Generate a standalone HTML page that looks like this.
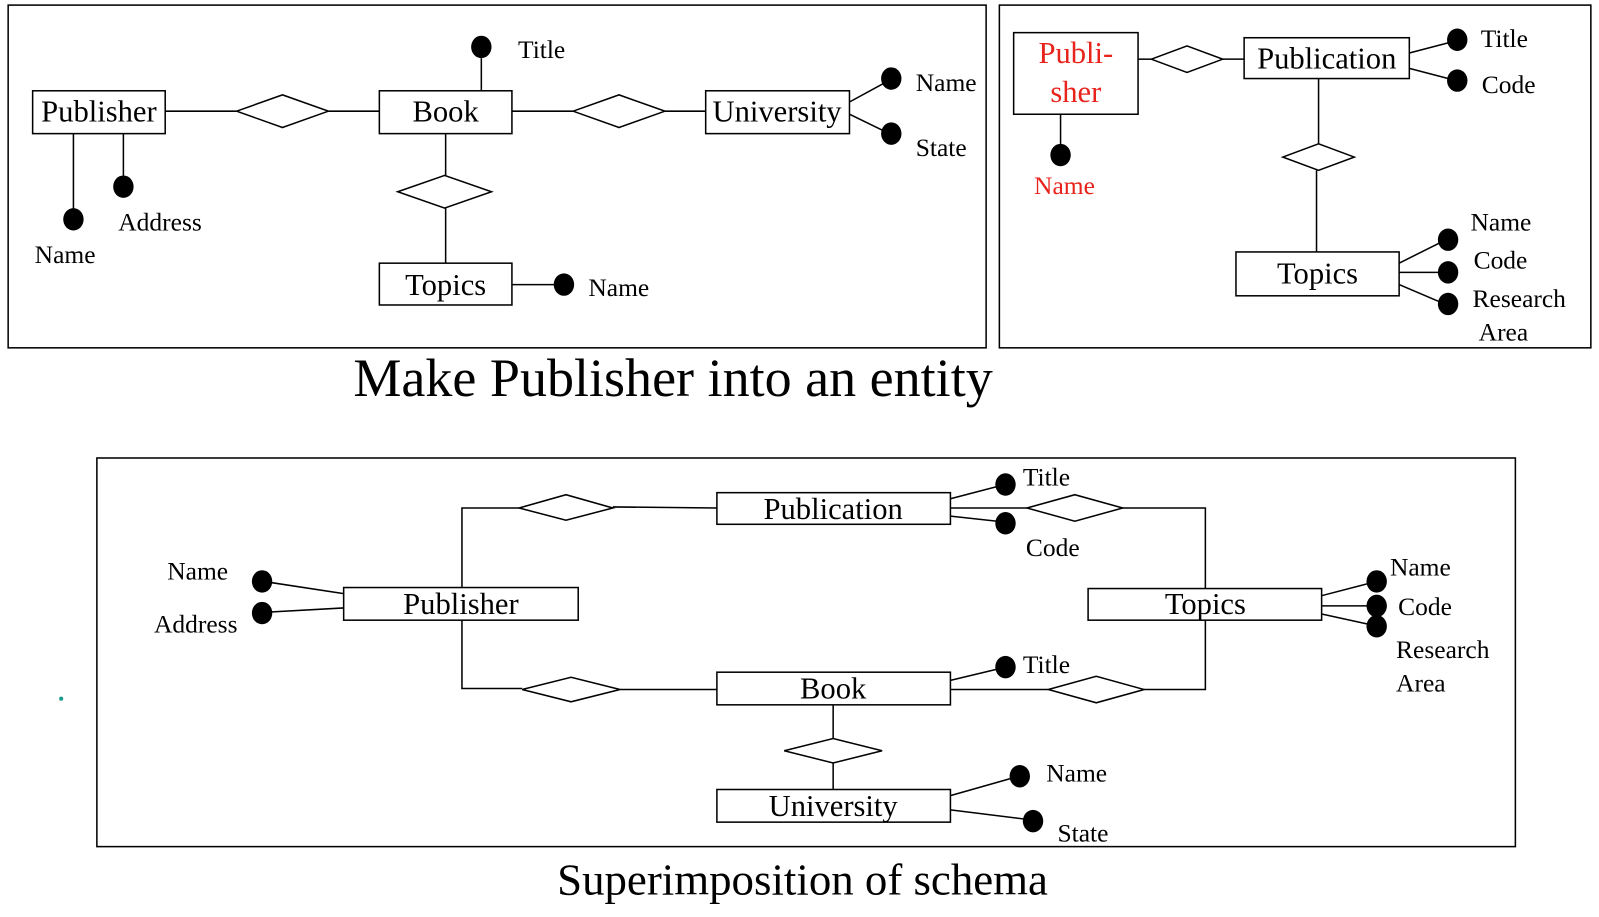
<!DOCTYPE html>
<html><head><meta charset="utf-8"><style>
html,body{margin:0;padding:0;background:#fff;}
svg{display:block;}
text{font-family:"Liberation Serif",serif;fill:#000;}
</style></head><body>
<svg width="1599" height="917" viewBox="0 0 1568 899" preserveAspectRatio="none" xmlns="http://www.w3.org/2000/svg">
<g fill="none" stroke="#000" stroke-width="1.5">
<rect x="8" y="5" width="959" height="336"/>
<rect x="980" y="5" width="580" height="336"/>
<rect x="95" y="449" width="1391" height="381"/>
<rect x="32" y="89" width="130" height="42"/>
<rect x="372" y="89" width="130" height="42"/>
<rect x="692" y="89" width="141" height="42"/>
<rect x="372" y="258" width="130" height="41"/>
<line x1="162" y1="109" x2="232" y2="109"/><polygon points="232,109 277,93 322,109 277,125"/><line x1="322" y1="109" x2="372" y2="109"/>
<line x1="502" y1="109" x2="562" y2="109"/><polygon points="562,109 607,93 652,109 607,125"/><line x1="652" y1="109" x2="692" y2="109"/>
<line x1="437" y1="131" x2="437" y2="172"/><polygon points="390,188 436,172 482,188 436,204"/><line x1="437" y1="204" x2="437" y2="258"/>
<line x1="472" y1="57" x2="472" y2="89"/>
<line x1="833" y1="100" x2="866" y2="82"/><line x1="833" y1="112" x2="866" y2="128"/>
<line x1="72" y1="131" x2="72" y2="205"/><line x1="121" y1="131" x2="121" y2="173"/>
<line x1="502" y1="279" x2="545" y2="279"/>
<rect x="994" y="32" width="122" height="80"/>
<rect x="1220" y="37" width="162" height="40"/>
<rect x="1212" y="247" width="160" height="43"/>
<line x1="1116" y1="58" x2="1129" y2="58"/><polygon points="1129,58 1164,45 1199,58 1164,71"/><line x1="1199" y1="58" x2="1220" y2="58"/>
<line x1="1040" y1="112" x2="1040" y2="142"/>
<line x1="1382" y1="52" x2="1420" y2="42"/><line x1="1382" y1="67" x2="1420" y2="77"/>
<line x1="1293" y1="77" x2="1293" y2="141"/><polygon points="1258,154 1293,141 1328,154 1293,167"/><line x1="1291" y1="167" x2="1291" y2="247"/>
<line x1="1372" y1="258" x2="1412" y2="238"/><line x1="1372" y1="267" x2="1412" y2="267"/><line x1="1372" y1="279" x2="1412" y2="296"/>
<rect x="703" y="483" width="229" height="31"/>
<rect x="337" y="576" width="230" height="32"/>
<rect x="1067" y="577" width="229" height="31"/>
<rect x="703" y="659" width="229" height="32"/>
<rect x="703" y="774" width="229" height="32"/>
<polyline points="453,576 453,498 509,498"/><polygon points="509,498 555,485 601,498 555,510"/><line x1="601" y1="497" x2="703" y2="498"/>
<polyline points="453,608 453,675 512,675"/><polygon points="512,676 560,664 608,676 560,688"/><line x1="608" y1="676" x2="703" y2="676"/>
<line x1="932" y1="498" x2="1007" y2="498"/><polygon points="1007,498 1054,485 1101,498 1054,511"/><polyline points="1101,498 1182,498 1182,577"/>
<line x1="932" y1="676" x2="1028" y2="676"/><polygon points="1028,676 1075,663 1122,676 1075,689"/><polyline points="1122,676 1182,676 1182,608"/>
<line x1="817" y1="691" x2="817" y2="724"/><polygon points="769,736 817,724 865,736 817,748"/><line x1="817" y1="748" x2="817" y2="774"/>
<line x1="932" y1="489" x2="978" y2="477"/><line x1="932" y1="506" x2="978" y2="511"/>
<line x1="932" y1="667" x2="978" y2="656"/>
<line x1="932" y1="780" x2="992" y2="763"/><line x1="932" y1="794" x2="1005" y2="803"/>
<line x1="337" y1="582" x2="265" y2="571"/><line x1="337" y1="596" x2="265" y2="600"/>
<line x1="1296" y1="584" x2="1342" y2="572"/><line x1="1296" y1="594" x2="1342" y2="594"/><line x1="1296" y1="602" x2="1342" y2="612"/>
</g>
<g fill="#000">
<ellipse cx="472" cy="46" rx="10" ry="11"/>
<ellipse cx="874" cy="77" rx="10" ry="11"/><ellipse cx="874" cy="131" rx="10" ry="11"/>
<ellipse cx="72" cy="215" rx="10" ry="11"/><ellipse cx="121" cy="183" rx="10" ry="11"/>
<ellipse cx="553" cy="279" rx="10" ry="11"/>
<ellipse cx="1040" cy="152" rx="10" ry="11"/>
<ellipse cx="1429" cy="39" rx="10" ry="11"/><ellipse cx="1429" cy="79" rx="10" ry="11"/>
<ellipse cx="1420" cy="235" rx="10" ry="11"/><ellipse cx="1420" cy="267" rx="10" ry="11"/><ellipse cx="1420" cy="298" rx="10" ry="11"/>
<ellipse cx="986" cy="475" rx="10" ry="11"/><ellipse cx="986" cy="513" rx="10" ry="11"/>
<ellipse cx="986" cy="654" rx="10" ry="11"/>
<ellipse cx="1000" cy="761" rx="10" ry="11"/><ellipse cx="1013" cy="805" rx="10" ry="11"/>
<ellipse cx="257" cy="570" rx="10" ry="11"/><ellipse cx="257" cy="601" rx="10" ry="11"/>
<ellipse cx="1350" cy="570" rx="10" ry="11"/><ellipse cx="1350" cy="594" rx="10" ry="11"/><ellipse cx="1350" cy="614" rx="10" ry="11"/>
</g>
<g font-size="30" text-anchor="middle">
<text x="97" y="119">Publisher</text>
<text x="437" y="119">Book</text>
<text x="762" y="119">University</text>
<text x="437" y="289">Topics</text>
<text x="1301" y="67">Publication</text>
<text x="1292" y="278">Topics</text>
<text x="1055" y="62" style="fill:#e8231c">Publi-</text>
<text x="1055" y="100" style="fill:#e8231c">sher</text>
<text x="817" y="509">Publication</text>
<text x="452" y="602">Publisher</text>
<text x="1182" y="602">Topics</text>
<text x="817" y="685">Book</text>
<text x="817" y="800">University</text>
</g>
<g font-size="25">
<text x="508" y="57">Title</text>
<text x="898" y="89">Name</text>
<text x="898" y="153">State</text>
<text x="116" y="226">Address</text>
<text x="34" y="258">Name</text>
<text x="577" y="290">Name</text>
<text x="1014" y="190" style="fill:#e8231c">Name</text>
<text x="1452" y="46">Title</text>
<text x="1453" y="91">Code</text>
<text x="1442" y="226">Name</text>
<text x="1445" y="263">Code</text>
<text x="1444" y="301">Research</text>
<text x="1450" y="334">Area</text>
<text x="1003" y="476">Title</text>
<text x="1006" y="545">Code</text>
<text x="164" y="568">Name</text>
<text x="151" y="620">Address</text>
<text x="1363" y="564">Name</text>
<text x="1371" y="603">Code</text>
<text x="1369" y="645">Research</text>
<text x="1369" y="678">Area</text>
<text x="1003" y="660">Title</text>
<text x="1026" y="766">Name</text>
<text x="1037" y="825">State</text>
</g>
<text x="660" y="388" font-size="53" text-anchor="middle">Make Publisher into an entity</text>
<text x="787" y="877" font-size="44" text-anchor="middle">Superimposition of schema</text>
<circle cx="60" cy="685" r="2" fill="#1a9a8a"/>
</svg>
</body></html>
